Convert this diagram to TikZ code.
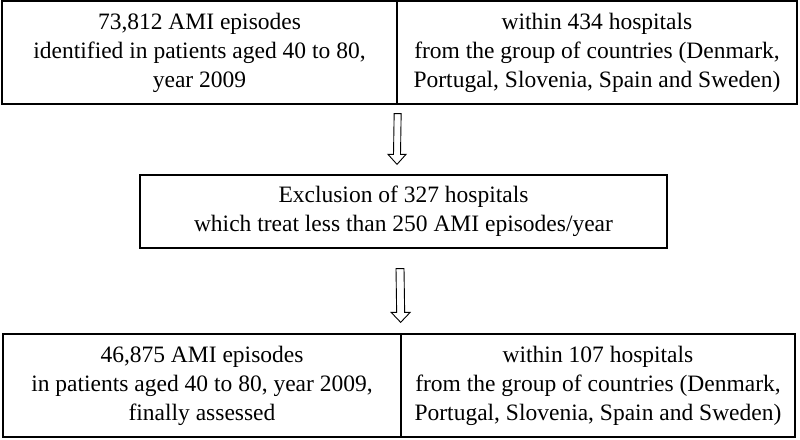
\documentclass[tikz,border=0pt]{standalone}
\usepackage{fontspec}
\setmainfont{Liberation Serif}
\usetikzlibrary{positioning, calc}

% hollow block arrow: start, tip, half shaft, half head, head length
\newcommand{\hollowarrow}[5]{%
  \draw[arrowline] ($(#1)+(-#3,0)$) -- ($(#2)+(-#3,-#5)$) -- ($(#2)+(-#4,-#5)$)
    -- (#2) -- ($(#2)+(#4,-#5)$) -- ($(#2)+(#3,-#5)$) -- ($(#1)+(#3,0)$) -- cycle;}

\tikzset{
  cell/.style={draw, line width=1.3pt, rectangle, inner sep=0pt, align=center,
    font=\fontsize{23.5}{29}\selectfont},
  arrowline/.style={draw, line width=0.9pt, line join=miter}
}

\begin{document}
\begin{tikzpicture}[x=1pt,y=-1pt]
  \useasboundingbox (0,0) rectangle (800,439);
  % Nodes
  \node (tl) [cell, minimum width=395pt, minimum height=103pt] at (199.5,52.5)
    {73,812 AMI episodes\\identified in patients aged 40 to 80,\\year 2009};
  \node (tr) [cell, minimum width=400pt, minimum height=103pt] at (597,52.5)
    {within 434 hospitals\\from the group of countries (Denmark,\\Portugal, Slovenia, Spain and Sweden)};
  \node (mid) [cell, minimum width=527pt, minimum height=73pt] at (403.5,211.5)
    {Exclusion of 327 hospitals\\which treat less than 250 AMI episodes/year};
  \node (bl) [cell, minimum width=398pt, minimum height=103pt] at (202,385.5)
    {46,875 AMI episodes\\in patients aged 40 to 80, year 2009,\\finally assessed};
  \node (br) [cell, minimum width=394pt, minimum height=103pt] at (598,385.5)
    {within 107 hospitals\\from the group of countries (Denmark,\\Portugal, Slovenia, Spain and Sweden)};

  % Arrows
  \coordinate (a1s) at ($(tl.south east)+(0,9)$);
  \coordinate (a1e) at ($(mid.north)+(-6.5,-10)$);
  \hollowarrow{a1s}{a1e}{3.5}{9}{10}
  \coordinate (a2s) at ($(mid.south)+(-3.5,20)$);
  \coordinate (a2e) at ($(bl.north east)+(-1,-11)$);
  \hollowarrow{a2s}{a2e}{4}{9.5}{10}
\end{tikzpicture}
\end{document}
